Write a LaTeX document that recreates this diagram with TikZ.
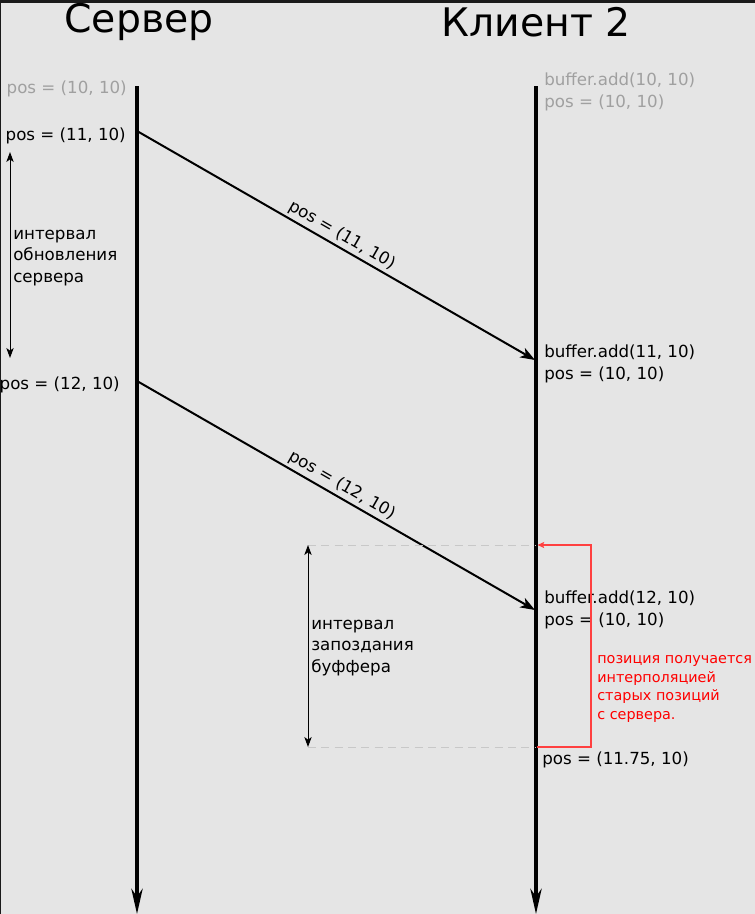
\documentclass[tikz,border=0pt]{standalone}
\usepackage{fontspec}
\setmainfont{DejaVu Sans}
\usetikzlibrary{arrows.meta}
\definecolor{bg}{HTML}{E5E5E5}
\definecolor{frame}{HTML}{1A1A1A}
\definecolor{fadedtxt}{HTML}{A0A0A0}
\definecolor{dashcol}{HTML}{C8C8C8}
\definecolor{notered}{HTML}{FF0000}
\tikzset{
  timeline/.style={line width=2.4pt,-{Stealth[length=19pt,width=8.5pt,inset=6pt]}},
  msg/.style={line width=1.5pt,-{Stealth[length=11pt,width=8pt,inset=3pt]}},
  span/.style={line width=0.75pt,{Stealth[length=7.5pt,width=5.5pt,inset=2pt]}-{Stealth[length=7.5pt,width=5.5pt,inset=2pt]}},
  guide/.style={dashcol,line width=0.75pt,dash pattern=on 6pt off 4pt},
  redline/.style={notered!75,line width=0.9pt,-{Stealth[length=5pt,width=4.5pt,inset=1pt]}},
  header/.style={font=\fontsize{29.5}{33}\selectfont,inner sep=0pt},
  lbl/.style={font=\fontsize{12.5}{16.3}\selectfont,inner sep=0pt,align=left},
  faded/.style={lbl,text=fadedtxt},
  notetxt/.style={font=\fontsize{10.8}{14}\selectfont,inner sep=0pt,align=left,text=notered},
}
\begin{document}
\begin{tikzpicture}[x=0.75pt,y=-0.75pt]
\fill[bg] (0,0) rectangle (755,914);
\useasboundingbox (0,0) rectangle (755,914);
\fill[frame] (0,0) rectangle (755,2.5);
\fill[frame] (0,0) rectangle (1.2,914);

% headers
\node[header] (hs) at (139,22) {Сервер};
\node[header] (hc) at (536,22) {Клиент 2};

% timelines
\coordinate (s0) at (137,86);
\coordinate (s1) at (137,914);
\coordinate (c0) at (536,86);
\coordinate (c1) at (536,914);
\draw[timeline] (s0) -- (s1);
\draw[timeline] (c0) -- (c1);

% server labels
\node[faded,anchor=east] (sp0) at (127,89) {pos = (10, 10)};
\node[lbl,anchor=east] (sp1) at (126,136) {pos = (11, 10)};
\node[lbl,anchor=east] (sp2) at (120,385) {pos = (12, 10)};

% server update interval
\coordinate (u0) at (10,152);
\coordinate (u1) at (10,358);
\draw[span] (u0) -- (u1);
\node[lbl,anchor=west] (ut) at (13,258) {интервал\\обновления\\сервера};

% messages
\coordinate (m1s) at (137,131);
\coordinate (m1e) at (535,360);
\coordinate (m2s) at (137,381);
\coordinate (m2e) at (535,610);
\draw[msg] (m1s) -- node[lbl,sloped,above=2pt,pos=0.5] (m1l) {pos = (11, 10)} (m1e);
\draw[msg] (m2s) -- node[lbl,sloped,above=2pt,pos=0.5] (m2l) {pos = (12, 10)} (m2e);

% client labels
\node[faded,anchor=west] (cp0) at (544,92) {buffer.add(10, 10)\\pos = (10, 10)};
\node[lbl,anchor=west] (cp1) at (544,364) {buffer.add(11, 10)\\pos = (10, 10)};
\node[lbl,anchor=west] (cp2) at (544,610) {buffer.add(12, 10)\\pos = (10, 10)};
\node[lbl,anchor=west] (cp3) at (542,760) {pos = (11.75, 10)};

% buffer delay interval
\coordinate (g0l) at (308,545);
\coordinate (g0r) at (536,545);
\coordinate (g1l) at (308,747);
\coordinate (g1r) at (536,747);
\draw[guide] (g0l) -- (g0r);
\draw[guide] (g1l) -- (g1r);
\draw[span] (g0l) -- (g1l);
\node[lbl,anchor=west] (bt) at (311,648) {интервал\\запоздания\\буффера};

% red bracket
\coordinate (r0) at (537,747);
\coordinate (r1) at (591,747);
\coordinate (r2) at (591,545);
\coordinate (r3) at (537.5,545);
\draw[redline] (r0) -- (r1) -- (r2) -- (r3);
\node[notetxt,anchor=west] (rt) at (597,689) {позиция получается\\интерполяцией\\старых позиций\\с сервера.};
\end{tikzpicture}
\end{document}
